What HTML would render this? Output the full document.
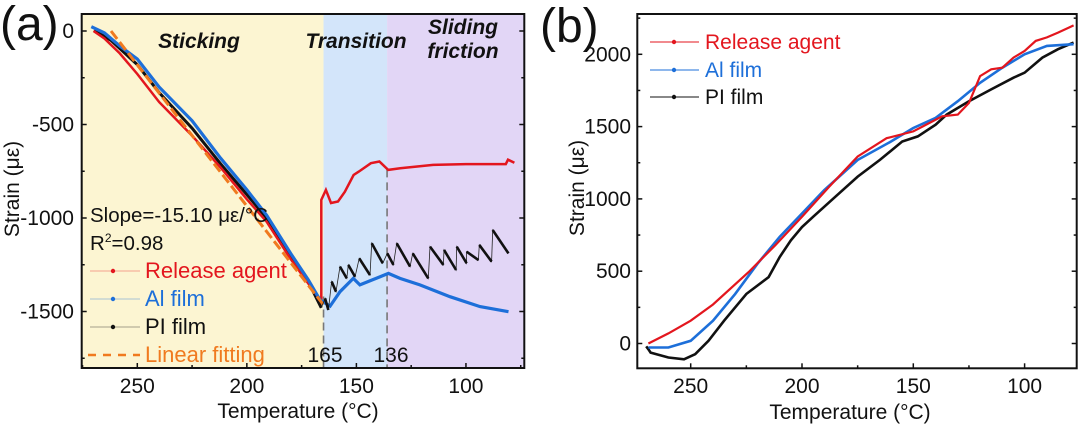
<!DOCTYPE html>
<html><head><meta charset="utf-8">
<style>
html,body{margin:0;padding:0;background:#fff;}
svg{display:block;font-family:"Liberation Sans",Arial,sans-serif;}
</style></head>
<body>
<svg id="fig" width="1080" height="427" viewBox="0 0 1080 427" xmlns="http://www.w3.org/2000/svg">
</svg>
<script>
// ---------- Panel (a) data ----------
const aRedT = [270,265,258,250,240,225,212,200,191,180,172,167,166];
const aRedS = [0,-40,-120,-230,-380,-560,-730,-900,-1020,-1220,-1350,-1430,-1450];
const aRedT2 = [166,166,163.9,161.6,158.4,155.3,151.3,148.9,143.4,139.5,135.5,130,115,100,81.8,80.8,77.9];
const aRedS2 = [-1450,-903,-850,-920,-912,-860,-770,-752,-707,-698,-743,-734,-716,-712,-712,-688,-705];
const aBlueT = [271,265,258,250,240,225,212,200,191,180,172,166.6,162,157.5,151.4,148.4,143,135.4,130.1,121,107.3,93.6,80.6];
const aBlueS = [23,-10,-80,-150,-300,-480,-680,-850,-985,-1190,-1330,-1438,-1471,-1394,-1323,-1358,-1332,-1296,-1323,-1358,-1421,-1474,-1501];
const aBlackT = [269.7,262,250,240,225,212,200,191,180,172,166];
const aBlackS = [5,-50,-180,-330,-520,-710,-875,-1000,-1200,-1340,-1480];
const piTopT = [164.3,161.3,157.5,153.7,148.7,143.0,135.9,131.6,124.3,116.4,110.0,104.2,99.7,93.9,87.8];
const piTopS = [-1430,-1340,-1260,-1251,-1216,-1135,-1189,-1135,-1189,-1153,-1171,-1153,-1180,-1144,-1064];
const piBotT = [162.8,159.3,154.4,150.6,143.8,138.0,133.1,125.5,117.2,110.3,104.5,99.7,94.3,88.3,80.6];
const piBotS = [-1492,-1394,-1323,-1314,-1305,-1242,-1251,-1260,-1323,-1251,-1278,-1242,-1225,-1233,-1189];
const fitT = [262,165];
const fitSlope = -15.10;
const aXTicks = [250,200,150,100];
const aYTicks = [0,-500,-1000,-1500];
const aYTickLabels = ["0","-500","-1000","-1500"];
// ---------- Panel (b) data ----------
const bRedT = [269,260,250,240,224,212,200,188,175,162,150,137,130,125,120,115,110,105,100,95,90,85,80,78];
const bRedS = [0,70,158,270,494,680,877,1080,1293,1420,1467,1571,1583,1664,1849,1896,1907,1977,2023,2093,2117,2150,2185,2200];
const bBlueT = [269,260,250,240,230,220,210,200,190,175,160,150,140,130,120,110,100,90,78];
const bBlueS = [-28,-28,19,158,343,552,737,899,1061,1270,1397,1490,1560,1676,1803,1907,2000,2058,2070];
const bBlackT = [270,269,268,260,253,248,242,235,225,215,210,205,200,195,185,175,165,155,148,140,135,125,115,105,100,92,85,78];
const bBlackS = [-20,-40,-63,-97,-109,-74,19,158,343,459,598,714,806,876,1015,1154,1270,1397,1432,1513,1583,1676,1757,1838,1873,1977,2035,2081];
const bXTicks = [250,200,150,100];
const bYTicks = [0,500,1000,1500,2000];

// ---------- axes ----------
const A = {x0:81.7,x1:524.3,y0:14,y1:368};
const B = {x0:637.3,x1:1076.7,y0:14,y1:368.3};
function xa(T){return 137.3+(250-T)*2.191;}
function ya(s){return 31-s*0.187;}
function xb(T){return 690.7+(250-T)*2.226;}
function yb(s){return 343.5-s*0.1446;}

const NS="http://www.w3.org/2000/svg";
const svg=document.getElementById('fig');
function mk(tag,attrs,parent){const e=document.createElementNS(NS,tag);for(const k in attrs)e.setAttribute(k,attrs[k]);(parent||svg).appendChild(e);return e;}
function pathFrom(Ts,Ss,fx,fy){let d='';for(let i=0;i<Ts.length;i++){d+=(i?'L':'M')+fx(Ts[i]).toFixed(1)+','+fy(Ss[i]).toFixed(1);}return d;}

const gA=mk('g',{});


let r=mk('rect',{x:A.x0,y:A.y0,width:xa(165)-A.x0,height:A.y1-A.y0,fill:'#fcf5d2'},gA);


r=mk('rect',{x:xa(165),y:A.y0,width:xa(136)-xa(165),height:A.y1-A.y0,fill:'#d3e5fa'},gA);


r=mk('rect',{x:xa(136),y:A.y0,width:A.x1-xa(136),height:A.y1-A.y0,fill:'#e2d6f6'},gA);


[[165,-1420],[136,-740]].forEach(([t,s])=>{
  const l=mk('line',{x1:xa(t),x2:xa(t),y1:ya(s),y2:A.y1,stroke:'#777','stroke-width':1.6,'stroke-dasharray':'8,5'},gA);
  
  
});
let p=mk('path',{d:pathFrom(aBlackT,aBlackS,xa,ya),fill:'none',stroke:'#111','stroke-width':3},gA);


p=mk('path',{d:pathFrom(aRedT,aRedS,xa,ya),fill:'none',stroke:'#e3161e','stroke-width':2.5},gA);


p=mk('path',{d:pathFrom(aRedT2,aRedS2,xa,ya),fill:'none',stroke:'#e3161e','stroke-width':2.5},gA);


p=mk('path',{d:pathFrom(aBlueT,aBlueS,xa,ya),fill:'none',stroke:'#1d6fd9','stroke-width':3.2},gA);


p=mk('path',{d:'M'+xa(fitT[0])+','+ya(0)+'L'+xa(fitT[1])+','+ya(fitSlope*(fitT[0]-fitT[1])),fill:'none',stroke:'#f07a1f','stroke-width':3,'stroke-dasharray':'10,4'},gA);


let sd='M'+xa(166)+','+ya(-1480);
for(let i=0;i<piTopT.length;i++){sd+='L'+xa(piTopT[i]).toFixed(1)+','+ya(piTopS[i]).toFixed(1)+'L'+xa(piBotT[i]).toFixed(1)+','+ya(piBotS[i]).toFixed(1);}
p=mk('path',{d:sd,fill:'none',stroke:'#222','stroke-width':0.8},gA);


for(let i=0;i<piTopT.length;i++){
  const l=mk('line',{x1:xa(piTopT[i]),y1:ya(piTopS[i]),x2:xa(piBotT[i]),y2:ya(piBotS[i]),stroke:'#111','stroke-width':2.6},gA);
  
  
}
r=mk('rect',{x:A.x0,y:A.y0,width:A.x1-A.x0,height:A.y1-A.y0,fill:'none',stroke:'#111','stroke-width':2},gA);


for(let t=275;t>=75;t-=25){
  const maj=aXTicks.includes(t); if(xa(t)<A.x0||xa(t)>A.x1)continue;
  mk('line',{x1:xa(t),x2:xa(t),y1:A.y1,y2:A.y1-(maj?5:3),stroke:'#111','stroke-width':1.5},gA);
}
aXTicks.forEach(t=>{const e=mk('text',{x:xa(t),y:393,'text-anchor':'middle','font-size':21,fill:'#111'},gA);e.textContent=t;

});
for(let s=0;s>=-1750;s-=250){const maj=s%500===0;
  [A.x0,A.x1].forEach((xx,j)=>mk('line',{x1:xx,x2:xx+(j?-1:1)*(maj?5:3),y1:ya(s),y2:ya(s),stroke:'#111','stroke-width':1.5},gA));}
aYTicks.forEach((s,i)=>{const e=mk('text',{x:74,y:ya(s)+7,'text-anchor':'end','font-size':21,fill:'#111'},gA);e.textContent=aYTickLabels[i];

});
</script>
<script>
(function(){
const NS="http://www.w3.org/2000/svg";
const svg=document.getElementById('fig');
function T(x,y,txt,attrs,name){const e=document.createElementNS(NS,'text');e.setAttribute('x',x);e.setAttribute('y',y);for(const k in attrs)e.setAttribute(k,attrs[k]);e.textContent=txt;svg.appendChild(e);

return e;}
T(0,40,'(a)',{'font-size':48,fill:'#111'},'panel-a-label');
T(540,42,'(b)',{'font-size':48,fill:'#111'},'panel-b-label');
T(199,48,'Sticking',{'font-size':21,'font-weight':'bold','font-style':'italic','text-anchor':'middle',fill:'#111'},'sticking-label');
T(356,48,'Transition',{'font-size':21,'font-weight':'bold','font-style':'italic','text-anchor':'middle',fill:'#111'},'transition-label');
T(463,34,'Sliding',{'font-size':21,'font-weight':'bold','font-style':'italic','text-anchor':'middle',fill:'#111'},'sliding-label');
T(463,58,'friction',{'font-size':21,'font-weight':'bold','font-style':'italic','text-anchor':'middle',fill:'#111'},'friction-label');
T(90,222,'Slope=-15.10 με/°C',{'font-size':20.5,fill:'#111'},'slope-annotation');
const r2=T(90,250,'R',{'font-size':20.5,fill:'#111'},'r-squared-annotation');
const sup=document.createElementNS(NS,'tspan');sup.setAttribute('font-size',12);sup.setAttribute('dy',-8);sup.textContent='2';r2.appendChild(sup);
const rest=document.createElementNS(NS,'tspan');rest.setAttribute('dy',8);rest.textContent='=0.98';r2.appendChild(rest);
T(325,362,'165',{'font-size':21,fill:'#111','text-anchor':'middle'},'label-165');
T(391,362,'136',{'font-size':21,fill:'#111','text-anchor':'middle'},'label-136');
T(298,418,'Temperature (°C)',{'font-size':21,fill:'#111','text-anchor':'middle'},'x-axis-title-a');
T(0,0,'Strain (με)',{'font-size':21,fill:'#111','text-anchor':'middle',transform:'translate(19,189) rotate(-90)'},'y-axis-title-a');
const leg=[['Release agent','#e3161e',278],['Al film','#1d6fd9',306],['PI film','#111',334]];
leg.forEach(([t,c,y])=>{
  const l=document.createElementNS(NS,'line');l.setAttribute('x1',90);l.setAttribute('x2',140);l.setAttribute('y1',y-7);l.setAttribute('y2',y-7);l.setAttribute('stroke',c);l.setAttribute('stroke-width',0.8);l.setAttribute('opacity',0.5);svg.appendChild(l);
  
  
  const d=document.createElementNS(NS,'circle');d.setAttribute('cx',113);d.setAttribute('cy',y-7);d.setAttribute('r',2.2);d.setAttribute('fill',c);svg.appendChild(d);
  
  
  T(145,y,t,{'font-size':22,fill:c},'legend-entry-a');
});
const fl=document.createElementNS(NS,'line');fl.setAttribute('x1',88);fl.setAttribute('x2',140);fl.setAttribute('y1',355);fl.setAttribute('y2',355);fl.setAttribute('stroke','#f07a1f');fl.setAttribute('stroke-width',2.5);fl.setAttribute('stroke-dasharray','8,7');svg.appendChild(fl);


T(145,362,'Linear fitting',{'font-size':22,fill:'#f07a1f'},'legend-entry-fit');

const legb=[['Release agent','#e3161e',49],['Al film','#1d6fd9',77],['PI film','#111',104]];
legb.forEach(([t,c,y])=>{
  const l=document.createElementNS(NS,'line');l.setAttribute('x1',650);l.setAttribute('x2',699);l.setAttribute('y1',y-7);l.setAttribute('y2',y-7);l.setAttribute('stroke',c);l.setAttribute('stroke-width',1);svg.appendChild(l);
  
  
  const d=document.createElementNS(NS,'circle');d.setAttribute('cx',674);d.setAttribute('cy',y-7);d.setAttribute('r',2.2);d.setAttribute('fill',c);svg.appendChild(d);
  
  
  T(705,y,t,{'font-size':21,fill:c},'legend-entry-b');
});
T(850,419,'Temperature (°C)',{'font-size':21,fill:'#111','text-anchor':'middle'},'x-axis-title-b');
T(0,0,'Strain (με)',{'font-size':21,fill:'#111','text-anchor':'middle',transform:'translate(584,188) rotate(-90)'},'y-axis-title-b');
})();
</script>
<script>
(function(){
const gB=mk('g',{});


let p=mk('path',{d:pathFrom(bBlackT,bBlackS,xb,yb),fill:'none',stroke:'#111','stroke-width':2.6},gB);


p=mk('path',{d:pathFrom(bBlueT,bBlueS,xb,yb),fill:'none',stroke:'#1d6fd9','stroke-width':2.6},gB);


p=mk('path',{d:pathFrom(bRedT,bRedS,xb,yb),fill:'none',stroke:'#e3161e','stroke-width':2.2},gB);


let r=mk('rect',{x:B.x0,y:B.y0,width:B.x1-B.x0,height:B.y1-B.y0,fill:'none',stroke:'#111','stroke-width':2},gB);


for(let t=275;t>=75;t-=25){const maj=bXTicks.includes(t);if(xb(t)<B.x0||xb(t)>B.x1)continue;
  mk('line',{x1:xb(t),x2:xb(t),y1:B.y1,y2:B.y1-(maj?5:3),stroke:'#111','stroke-width':1.5},gB);}
bXTicks.forEach(t=>{const e=mk('text',{x:xb(t),y:393,'text-anchor':'middle','font-size':21,fill:'#111'},gB);e.textContent=t;

});
for(let s=0;s<=2250;s+=250){const maj=s%500===0;
  [B.x0,B.x1].forEach((xx,j)=>mk('line',{x1:xx,x2:xx+(j?-1:1)*(maj?5:3),y1:yb(s),y2:yb(s),stroke:'#111','stroke-width':1.5},gB));}
bYTicks.forEach(s=>{const e=mk('text',{x:631,y:yb(s)+7,'text-anchor':'end','font-size':21,fill:'#111'},gB);e.textContent=s;

});
})();
</script>
</body></html>
